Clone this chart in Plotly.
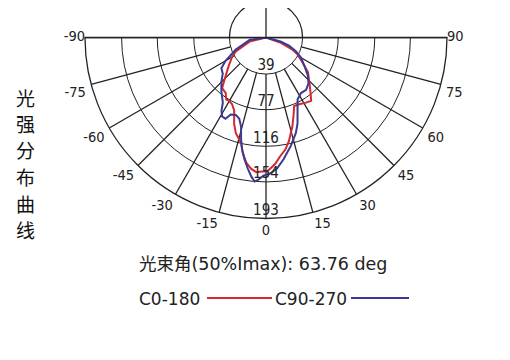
import plotly.graph_objects as go

# ---- data ----
ang_ticks = [-90, -75, -60, -45, -30, -15, 0, 15, 30, 45, 60, 75, 90]
ring_vals = [39, 77, 116, 154, 193]
ring_labels = ["39", "77", "116", "154", "193"]

theta_c0 = [-90, -76, -65.5, -61, -52.7, -43.6, -40.9, -36.1, -32.7, -30.3, -26.8, -23.5,
            -20.3, -17.5, -13.3, -11.5, -9, -6.4, -4.1, -1.9, 0.3, 1.8, 4.2, 7, 9.9, 12.5,
            16.5, 19.8, 22.3, 26.4, 31.6, 35.5, 38.7, 43.5, 50.4, 55.8, 61.8, 65.4, 70.7, 90]
r_c0 = [0, 18, 35, 41, 50, 65, 71.5, 73, 78.5, 78, 80, 85,
        98, 107, 115.5, 125, 135, 141, 144, 143, 143, 140, 135, 127, 121, 113,
        99, 87, 79, 79.5, 81.5, 83, 76, 67.5, 58, 47, 38, 31, 16, 0]

theta_c90 = [-90, -81.5, -68.2, -60, -55.5, -50.1, -45.2, -39.6, -33.5, -31.3, -29.1, -26.5,
             -24.6, -21.3, -18.2, -15.6, -13.7, -12.1, -10.1, -7.9, -6, -4.5, -3.2, -1.1,
             1.7, 4.8, 8.3, 12.8, 17.3, 20.1, 23.3, 27, 32.2, 37.5, 42.8, 47.9, 53.6, 60.2,
             65.3, 70.5, 74.4, 90]
r_c90 = [0, 17.7, 34.7, 49.8, 57.7, 60.1, 67, 74.6, 83.4, 91.4, 96.3, 96.8,
         90.4, 88.6, 91.2, 98.9, 112.1, 121.9, 131.5, 141.1, 149.2, 154.1, 152.1, 147.4,
         145.1, 140.3, 130.9, 118.8, 106.9, 97.8, 85, 74.2, 70, 70.3, 66.7, 60.1, 50.8, 43,
         35, 26, 16, 0]

series_names = ["C0-180", "C90-270"]
beam_text = "光束角(50%Imax): 63.76 deg"
side_title = "光强分布曲线"

RED = "#d42a2e"
BLUE = "#3a3a92"
GRID = "#222222"
TXT = "#222222"
TICKFONT = "DejaVu Sans Condensed, Liberation Sans, sans-serif"
W, H = 510, 360
OFF = 8  # page body margin in the browser
CX, CY, RAD = 266, 37.5, 181  # on-screen pixel geometry of the polar plot
LBL = 1.03  # angular labels sit on a slightly larger copy of the polar frame


def px(x):
    return (x - OFF) / W


def py(y):
    return 1 - (y - OFF) / H


fig = go.Figure()

# spokes from first ring outward
sp_r, sp_t = [], []
for a in ang_ticks[1:-1]:
    sp_r += [ring_vals[0], ring_vals[-1], None]
    sp_t += [a, a, None]
fig.add_trace(go.Scatterpolar(r=sp_r, theta=sp_t, mode="lines",
                              line=dict(color=GRID, width=1.3), hoverinfo="skip", showlegend=False))
# horizontal diameter (-90 .. 90)
fig.add_trace(go.Scatterpolar(r=[ring_vals[-1], 0, ring_vals[-1]], theta=[-90, 0, 90], mode="lines",
                              line=dict(color=GRID, width=1.3), hoverinfo="skip", showlegend=False))

fig.add_trace(go.Scatterpolar(r=r_c0, theta=theta_c0, mode="lines", name=series_names[0],
                              line=dict(color=RED, width=2), showlegend=False))
fig.add_trace(go.Scatterpolar(r=r_c90, theta=theta_c90, mode="lines", name=series_names[1],
                              line=dict(color=BLUE, width=2), showlegend=False))

# radial labels
fig.add_trace(go.Scatterpolar(r=ring_vals, theta=[0] * len(ring_vals), mode="text", text=ring_labels,
                              textposition="top center", cliponaxis=False,
                              textfont=dict(family=TICKFONT, size=15, color=TXT),
                              hoverinfo="skip", showlegend=False))

# angular labels (on polar2, a slightly larger invisible frame)
ang_pos, ang_r = [], []
for a in ang_ticks:
    if a == -90:
        ang_pos.append("middle left")
    elif a == 90:
        ang_pos.append("middle right")
    elif a < 0:
        ang_pos.append("bottom left")
    elif a > 0:
        ang_pos.append("bottom right")
    else:
        ang_pos.append("bottom center")
    ang_r.append(ring_vals[-1] / LBL if abs(a) == 90 else ring_vals[-1])
fig.add_trace(go.Scatterpolar(r=ang_r, theta=ang_ticks, mode="text", subplot="polar2",
                              text=[str(a) for a in ang_ticks], textposition=ang_pos, cliponaxis=False,
                              textfont=dict(family=TICKFONT, size=14.5, color=TXT),
                              hoverinfo="skip", showlegend=False))

R2 = RAD * LBL
fig.update_layout(
    width=W, height=H,
    margin=dict(l=0, r=0, t=0, b=0),
    paper_bgcolor="white",
    polar=dict(
        domain=dict(x=[px(CX - RAD), px(CX + RAD)], y=[py(CY + RAD), py(CY)]),
        sector=[180, 360],
        bgcolor="white",
        angularaxis=dict(rotation=270, direction="counterclockwise",
                         showticklabels=False, showgrid=False, showline=True,
                         linecolor=GRID, linewidth=1.3, ticks=""),
        radialaxis=dict(range=[0, ring_vals[-1]], tickmode="array", tickvals=ring_vals,
                        showticklabels=False, showline=False, showgrid=True,
                        gridcolor=GRID, gridwidth=1.3, ticks=""),
    ),
    polar2=dict(
        domain=dict(x=[px(CX - R2), px(CX + R2)], y=[py(CY + R2), py(CY)]),
        sector=[180, 360],
        bgcolor="rgba(0,0,0,0)",
        angularaxis=dict(rotation=270, direction="counterclockwise",
                         showticklabels=False, showgrid=False, showline=False, ticks=""),
        radialaxis=dict(range=[0, ring_vals[-1]], showticklabels=False, showline=False,
                        showgrid=False, ticks=""),
    ),
    showlegend=False,
)

# upper part of the inner ring and vertical axis (visible above the diameter)
r1 = ring_vals[0] / ring_vals[-1] * RAD
fig.add_shape(type="circle", xref="paper", yref="paper",
              x0=px(CX - r1), x1=px(CX + r1), y0=py(CY + r1), y1=py(CY - r1),
              line=dict(color=GRID, width=1.3), layer="below")
fig.add_shape(type="line", xref="paper", yref="paper", x0=px(CX), x1=px(CX),
              y0=py(CY), y1=py(0), line=dict(color=GRID, width=1.3), layer="below")

# side title (vertical)
for i, ch in enumerate(side_title):
    fig.add_annotation(text=ch, xref="paper", yref="paper",
                       x=px(25), y=py(97 + 26.5 * i), showarrow=False,
                       xanchor="center", yanchor="middle",
                       font=dict(family="Noto Sans CJK SC", size=19, color="#111"))

# beam angle text
fig.add_annotation(text=beam_text, xref="paper", yref="paper", x=px(137), y=py(264),
                   showarrow=False, xanchor="left", yanchor="middle",
                   font=dict(family="DejaVu Sans, Noto Sans CJK SC", size=17.5, color=TXT))

# legend-like row
fig.add_annotation(text=series_names[0], xref="paper", yref="paper", x=px(137), y=py(299),
                   showarrow=False, xanchor="left", yanchor="middle",
                   font=dict(family="DejaVu Sans", size=17, color=TXT))
fig.add_shape(type="line", xref="paper", yref="paper", x0=px(207), x1=px(272),
              y0=py(298), y1=py(298), line=dict(color=RED, width=2))
fig.add_annotation(text=series_names[1], xref="paper", yref="paper", x=px(273), y=py(299),
                   showarrow=False, xanchor="left", yanchor="middle",
                   font=dict(family="DejaVu Sans", size=17, color=TXT))
fig.add_shape(type="line", xref="paper", yref="paper", x0=px(351), x1=px(409),
              y0=py(298), y1=py(298), line=dict(color=BLUE, width=2))

fig.write_html("out.html")
